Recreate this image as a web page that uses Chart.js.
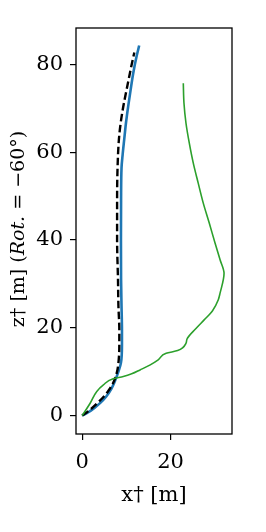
<!DOCTYPE html>
<html>
<head>
<meta charset="utf-8">
<script src="https://cdn.jsdelivr.net/npm/chart.js@4/dist/chart.umd.min.js"></script>
<style>
  html, body { margin: 0; padding: 0; background: #fff; }
  #wrap { width: 266px; height: 532px; }
</style>
</head>
<body>
<div id="wrap"><canvas id="myChart" width="266" height="532"></canvas></div>
<script>
// blue solid line
const blueX = [0, 1.3, 2.7, 4.1, 5.4, 6.6, 7.5, 8.2, 8.77, 9.0, 9.0, 8.9, 8.8, 8.77, 8.8, 8.9, 9.15, 9.5, 9.9, 10.4, 10.96, 11.55, 12.3, 12.9];
const blueZ = [0, 0.7, 1.7, 2.9, 4.3, 6.1, 8.1, 10, 12, 16, 19.5, 25, 31, 40, 49, 56.4, 59.4, 62.8, 66.6, 70.4, 74.2, 78, 81.8, 84.3];

// black dashed line
const blackX = [0, 1.0, 2.0, 3.3, 4.6, 5.9, 7.0, 7.8, 8.2, 8.4, 8.4, 8.2, 8.1, 7.9, 7.9, 8.0, 8.3, 8.7, 9.3, 10.0, 10.6, 11.2, 11.8];
const blackZ = [0, 0.7, 1.5, 2.7, 4.0, 5.6, 7.4, 9.6, 12, 16, 19.5, 25, 31, 40, 49, 56.4, 62.8, 66.6, 70.4, 74, 77, 80, 82.7];

// green line
const greenX = [0, 1.8, 3.3, 4.8, 7.0, 9.3, 11.2, 13.1, 15.3, 17.2, 19.0, 21.6, 23.5, 23.7, 25.8, 27.6, 29.5, 30.8, 31.2, 32.1, 31.2, 30.06, 28.77, 27.4, 26.27, 25.14, 24.24, 23.49, 23.03, 22.88];
const greenZ = [0, 2.8, 5.5, 7.0, 8.4, 8.9, 9.5, 10.4, 11.5, 12.7, 14.2, 14.8, 16.5, 17.4, 19.9, 21.8, 23.9, 26.4, 27.9, 32.4, 35.5, 39.3, 43.8, 48.4, 52.9, 57.5, 62.05, 66.6, 71.2, 75.7];

const xTicks = [0, 20];
const yTicks = [0, 20, 40, 60, 80];

const FONT = "'DejaVu Serif', serif";

function pts(xs, zs) {
  return xs.map((x, i) => ({ x: x, y: zs[i] }));
}

// frame round the plot + y title with italic part
const framePlugin = {
  id: "frame",
  afterDraw(chart) {
    const { ctx, chartArea: a } = chart;
    ctx.save();
    ctx.strokeStyle = "#000";
    ctx.lineWidth = 1.3;
    ctx.strokeRect(a.left, a.top, a.right - a.left, a.bottom - a.top);

    // y title
    const parts = [
      { t: "z† [m] (", f: "19px " + FONT },
      { t: "Rot.", f: "italic 19px " + FONT },
      { t: " = −60°)", f: "19px " + FONT },
    ];
    let total = 0;
    parts.forEach((p) => {
      ctx.font = p.f;
      p.w = ctx.measureText(p.t).width;
      total += p.w;
    });
    ctx.translate(19, (a.top + a.bottom) / 2 - 2);
    ctx.rotate(-Math.PI / 2);
    ctx.fillStyle = "#000";
    ctx.textBaseline = "middle";
    let x = -total / 2;
    parts.forEach((p) => {
      ctx.font = p.f;
      ctx.fillText(p.t, x, 0);
      x += p.w;
    });
    ctx.restore();
  },
};

const lineOpts = { showLine: true, pointRadius: 0, cubicInterpolationMode: "monotone" };

const ctx = document.getElementById("myChart").getContext("2d");
new Chart(ctx, {
  type: "scatter",
  data: {
    datasets: [
      { ...lineOpts, data: pts(greenX, greenZ), borderColor: "#2ca02c", borderWidth: 1.6 },
      { ...lineOpts, data: pts(blackX, blackZ), borderColor: "#000", borderWidth: 2.4, borderDash: [7.5, 3.5] },
      { ...lineOpts, data: pts(blueX, blueZ), borderColor: "#1f77b4", borderWidth: 2.6 },
    ],
  },
  options: {
    responsive: false,
    animation: false,
    indexAxis: "y",
    layout: { padding: { top: 28, right: 34, left: 0, bottom: 0 } },
    plugins: { legend: { display: false }, tooltip: { enabled: false } },
    scales: {
      x: {
        type: "linear",
        min: -1.4,
        max: 33.9,
        afterBuildTicks: (s) => { s.ticks = xTicks.map((v) => ({ value: v })); },
        afterFit: (s) => { s.height = 98; },
        grid: { drawOnChartArea: false, tickLength: 6, color: "#000", lineWidth: 1.2 },
        border: { display: false },
        ticks: { color: "#000", font: { family: FONT, size: 21 }, padding: 10, maxRotation: 0 },
        title: { display: true, text: "x† [m]", color: "#000", font: { family: FONT, size: 21 }, padding: { top: 0, bottom: 24 } },
      },
      y: {
        type: "linear",
        min: -4.2,
        max: 88.3,
        afterBuildTicks: (s) => { s.ticks = yTicks.map((v) => ({ value: v })); },
        afterFit: (s) => { s.width = 76; },
        grid: { drawOnChartArea: false, tickLength: 6, color: "#000", lineWidth: 1.2 },
        border: { display: false },
        ticks: { color: "#000", font: { family: FONT, size: 21 }, padding: 7 },
      },
    },
  },
  plugins: [framePlugin],
});
</script>
</body>
</html>
